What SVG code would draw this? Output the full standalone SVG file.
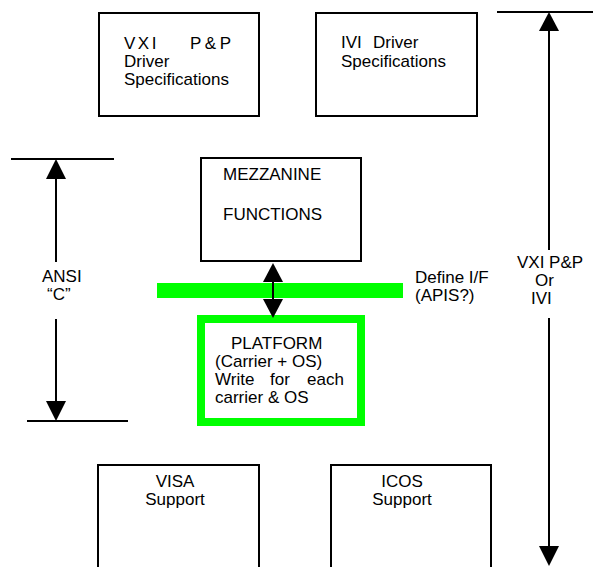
<svg xmlns="http://www.w3.org/2000/svg" width="604" height="567" viewBox="0 0 604 567">
<style>
  .box { fill: #ffffff; stroke: #000000; stroke-width: 2; }
  .gbox { fill: #ffffff; stroke: #00ff00; stroke-width: 8; }
  .t { font-family: "Liberation Sans", Arial, sans-serif; font-size: 17px; fill: #000000; }
  .m { text-anchor: middle; }
  .ln { stroke: #000000; stroke-width: 2; fill: none; }
  .ah { fill: #000000; stroke: none; }
</style>
<rect x="0" y="0" width="604" height="567" fill="#ffffff"/>

<g id="vxi-spec">
  <rect class="box" x="99" y="13" width="160" height="103"/>
  <text class="t" x="124" y="49" letter-spacing="2.5">VXI</text>
  <text class="t" x="190" y="49" letter-spacing="3.5">P&amp;P</text>
  <text class="t" x="124" y="67">Driver</text>
  <text class="t" x="124" y="85">Specifications</text>
</g>

<g id="ivi-spec">
  <rect class="box" x="316" y="13" width="161" height="103"/>
  <text class="t" x="341" y="48">IVI<tspan x="373">Driver</tspan></text>
  <text class="t" x="341" y="67">Specifications</text>
</g>

<g id="mezzanine">
  <rect class="box" x="201" y="158" width="160" height="103"/>
  <text class="t" x="223" y="180">MEZZANINE</text>
  <text class="t" x="223" y="220">FUNCTIONS</text>
</g>

<g id="interface-bar">
  <rect x="157" y="283" width="246" height="15" fill="#00ff00"/>
  <text class="t" x="415" y="283">Define I/F</text>
  <text class="t" x="415" y="301">(APIS?)</text>
</g>

<g id="platform">
  <rect class="gbox" x="201" y="319" width="160" height="103"/>
  <text class="t" x="231" y="349">PLATFORM</text>
  <text class="t" x="215" y="367">(Carrier + OS)</text>
  <text class="t" x="215" y="385">Write<tspan x="270">for</tspan><tspan x="307">each</tspan></text>
  <text class="t" x="215" y="403">carrier &amp; OS</text>
</g>

<g id="visa">
  <rect class="box" x="98" y="465" width="161" height="110"/>
  <text class="t m" x="175" y="487">VISA</text>
  <text class="t m" x="175" y="505">Support</text>
</g>

<g id="icos">
  <rect class="box" x="331" y="465" width="160" height="110"/>
  <text class="t m" x="402" y="487">ICOS</text>
  <text class="t m" x="402" y="505">Support</text>
</g>

<g id="connectors">
  <!-- mezzanine <-> platform -->
  <line class="ln" x1="273" y1="280" x2="273" y2="301"/>
  <polygon class="ah" points="273,263 263,282 283,282"/>
  <polygon class="ah" points="263,299 283,299 273,318"/>

  <!-- ANSI C dimension -->
  <line class="ln" x1="11" y1="159" x2="114" y2="159"/>
  <polygon class="ah" points="56,159 46,179 66,179"/>
  <line class="ln" x1="56" y1="178" x2="56" y2="262"/>
  <text class="t" x="42" y="282">ANSI</text>
  <text class="t" x="47" y="300">“C”</text>
  <line class="ln" x1="56" y1="319" x2="56" y2="402"/>
  <polygon class="ah" points="46,401 66,401 56,421"/>
  <line class="ln" x1="27" y1="421" x2="128" y2="421"/>

  <!-- VXI P&P or IVI dimension -->
  <line class="ln" x1="497" y1="12" x2="593" y2="12"/>
  <polygon class="ah" points="549,12 539,31 559,31"/>
  <line class="ln" x1="549" y1="30" x2="549" y2="250"/>
  <text class="t" x="517" y="268">VXI P&amp;P</text>
  <text class="t" x="535" y="286">Or</text>
  <text class="t" x="531" y="304">IVI</text>
  <line class="ln" x1="549" y1="318" x2="549" y2="547"/>
  <polygon class="ah" points="539,546 559,546 549,566"/>
</g>
</svg>
